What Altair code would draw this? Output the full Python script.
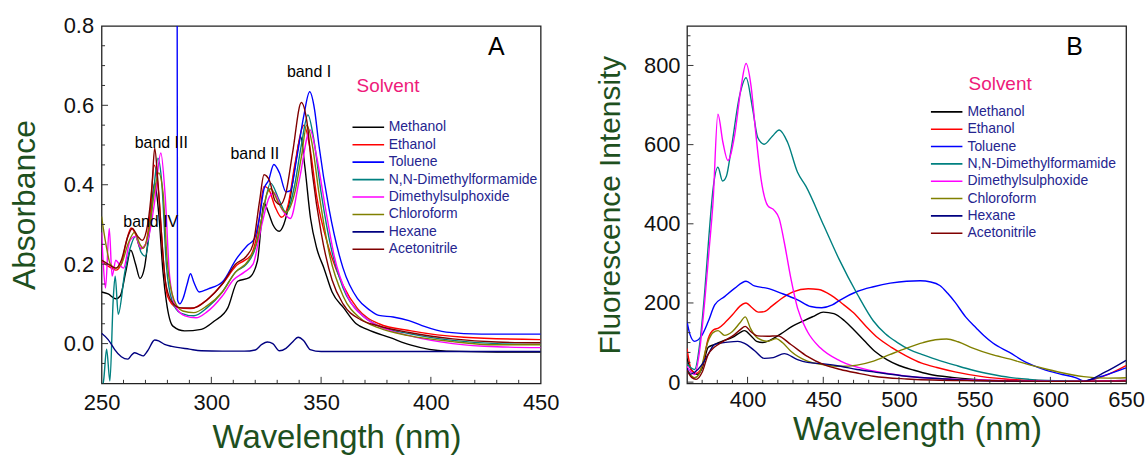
import altair as alt
import pandas as pd
import numpy as np

# ---------------- data ----------------
SOLVENTS = ["Methanol", "Ethanol", "Toluene", "N,N-Dimethylformamide",
            "Dimethylsulphoxide", "Chloroform", "Hexane", "Acetonitrile"]
LEGEND_A = ["Methanol", "Ethanol", "Toluene", "N,N-Dimethylformamide",
            "Dimethylsulphoxide", "Chloroform", " Hexane", "Acetonitrile"]
COLORS = ["#000000", "#ff0000", "#0000ff", "#008080",
          "#ff00ff", "#808000", "#000080", "#800000"]

# Panel A: absorbance
A_meth_x = [250, 253, 256.5, 258.5, 261, 263.3, 265.5, 267.5, 269.5, 272, 274.2, 276, 278, 279.5, 282.5, 287.8, 295.4, 301.4, 307.5, 312, 317.3, 321, 324, 326, 328, 330.9, 333, 336, 338.5, 340.7, 342.5, 345.2, 348, 351.3, 355, 360.3, 366, 371, 381.5, 391, 407, 430, 450]
A_meth_y = [0.13, 0.125, 0.113, 0.12, 0.18, 0.235, 0.2, 0.164, 0.19, 0.3, 0.404, 0.33, 0.18, 0.107, 0.044, 0.032, 0.036, 0.057, 0.09, 0.157, 0.166, 0.208, 0.354, 0.33, 0.3, 0.283, 0.3, 0.37, 0.46, 0.521, 0.45, 0.315, 0.24, 0.19, 0.13, 0.09, 0.05, 0.036, 0.015, -0.004, -0.019, -0.021, -0.021]
A_eth_x = [250, 253, 256.5, 259, 261, 263.5, 265.5, 267.8, 270, 272, 274, 276, 278, 280, 284, 290.5, 298, 305, 311.5, 318, 321, 324, 326, 329, 332, 335, 338, 342.2, 345, 348, 353.6, 360, 366.6, 376.3, 391, 415, 450]
A_eth_y = [0.206, 0.195, 0.185, 0.2, 0.25, 0.291, 0.275, 0.239, 0.25, 0.32, 0.449, 0.38, 0.22, 0.12, 0.092, 0.088, 0.11, 0.15, 0.197, 0.222, 0.28, 0.396, 0.39, 0.345, 0.318, 0.35, 0.45, 0.55, 0.49, 0.37, 0.239, 0.147, 0.088, 0.05, 0.032, 0.016, 0.01]
A_tol_x = [284.4, 284.6, 285.6, 287.2, 289, 290.5, 292, 294.5, 298.6, 305, 311.5, 316.4, 319.6, 322, 324, 326, 328.5, 331, 334, 336, 339, 342, 344.8, 347, 349, 353.6, 360, 366.6, 372, 376.3, 382.8, 390, 395.7, 407, 423, 450]
A_tol_y = [1.0, 0.11, 0.10, 0.115, 0.15, 0.176, 0.155, 0.13, 0.138, 0.155, 0.214, 0.247, 0.264, 0.32, 0.39, 0.41, 0.451, 0.43, 0.382, 0.385, 0.47, 0.57, 0.634, 0.59, 0.5, 0.34, 0.19, 0.113, 0.085, 0.071, 0.067, 0.058, 0.046, 0.029, 0.024, 0.024]
A_dmf_x = [250, 251, 252.3, 253.8, 255.3, 256.2, 257.6, 260.6, 263, 265.5, 268, 270, 272, 274, 275.7, 277.5, 279.5, 282, 286, 292, 298, 305, 311, 316, 320, 323.5, 327, 331, 334, 338, 341, 344, 346.5, 350, 355, 360, 368, 376, 390, 410, 430, 450]
A_dmf_y = [-0.12, -0.09, -0.014, -0.094, 0.11, 0.17, 0.074, 0.18, 0.24, 0.27, 0.23, 0.22, 0.29, 0.4, 0.467, 0.4, 0.2, 0.11, 0.077, 0.07, 0.09, 0.13, 0.18, 0.2, 0.24, 0.33, 0.404, 0.36, 0.33, 0.4, 0.5, 0.576, 0.52, 0.38, 0.23, 0.14, 0.075, 0.045, 0.025, 0.008, 0.0, -0.002]
A_dmso_x = [250, 250.8, 251.8, 253.5, 254.8, 256.5, 258, 260, 263, 265.5, 268, 271, 274, 277, 279, 281, 284, 288, 293, 298, 305, 310, 315, 319, 323, 326.5, 328.5, 332, 336, 340, 345, 348, 352, 356, 362, 370, 378, 390, 410, 430, 450]
A_dmso_y = [0.28, 0.2, 0.14, 0.29, 0.17, 0.21, 0.2, 0.19, 0.26, 0.27, 0.24, 0.26, 0.35, 0.48, 0.37, 0.17, 0.09, 0.07, 0.065, 0.08, 0.12, 0.16, 0.18, 0.2, 0.3, 0.37, 0.38, 0.34, 0.315, 0.41, 0.538, 0.47, 0.34, 0.22, 0.12, 0.065, 0.04, 0.02, 0.0, -0.008, -0.01]
A_chl_x = [250, 252, 254, 256.5, 259, 262, 265, 267.5, 269, 272, 274, 276, 278, 280, 283, 287, 292, 298, 305, 311, 317, 321, 325.5, 327, 331, 334, 338, 341, 343.5, 346, 349, 354, 360, 368, 376, 390, 410, 430, 450]
A_chl_y = [0.32, 0.25, 0.2, 0.19, 0.2, 0.25, 0.28, 0.25, 0.24, 0.3, 0.38, 0.43, 0.38, 0.2, 0.11, 0.082, 0.078, 0.095, 0.13, 0.18, 0.21, 0.26, 0.38, 0.39, 0.35, 0.33, 0.38, 0.47, 0.55, 0.5, 0.38, 0.22, 0.12, 0.063, 0.04, 0.02, 0.005, -0.003, -0.003]
A_hex_x = [250, 253, 254.5, 256, 259, 262, 263.5, 265, 267, 268.9, 271, 274.2, 276, 278.7, 282, 290, 295.4, 305, 315, 320, 323, 325.5, 328, 331, 334, 337, 339.5, 342, 345, 350, 400, 450]
A_hex_y = [0.026, 0.01, -0.002, -0.015, -0.033, -0.039, -0.03, -0.023, -0.027, -0.031, -0.018, 0.009, 0.007, -0.002, -0.007, -0.014, -0.018, -0.019, -0.019, -0.016, -0.002, 0.004, 0.0, -0.018, -0.012, 0.004, 0.016, 0.008, -0.015, -0.02, -0.02, -0.02]
A_acn_x = [250, 253, 256.5, 259, 262, 264, 266.5, 268.5, 271, 273, 274.2, 275.5, 277, 279, 282, 286, 292, 298, 305, 311, 316, 319, 322, 324, 326.5, 329, 331.5, 334, 337, 341, 343.5, 346, 350, 355, 360, 368, 376, 390, 410, 430, 450]
A_acn_y = [0.21, 0.2, 0.19, 0.21, 0.27, 0.29, 0.27, 0.26, 0.3, 0.4, 0.492, 0.42, 0.3, 0.16, 0.105, 0.09, 0.09, 0.11, 0.15, 0.2, 0.22, 0.25, 0.36, 0.425, 0.41, 0.36, 0.35, 0.38, 0.48, 0.607, 0.56, 0.43, 0.28, 0.16, 0.1, 0.06, 0.045, 0.028, 0.012, 0.004, 0.002]

# Panel B: fluorescence
B_meth_x = [360, 363, 367, 370, 374, 378, 383, 390, 395, 398, 402, 406, 410, 415, 422, 430, 437, 444, 450, 457, 464, 470, 477, 484, 492, 500, 510, 520, 535, 550, 575, 600, 625, 650]
B_meth_y = [60, 30, 20, 35, 88, 95, 103, 113, 125, 130, 118, 103, 100, 106, 122, 142, 155, 167, 177, 173, 155, 133, 105, 78, 57, 42, 30, 20, 12, 7, 3, 2, 2, 4]
B_eth_x = [360, 363, 366, 370, 374, 377.5, 381, 385, 390, 395, 399, 403, 407, 411, 416, 422, 430, 440, 447, 455, 462, 470, 478, 486, 495, 505, 515, 525, 537, 555, 570, 590, 610, 622, 635, 650]
B_eth_y = [85, 30, 22, 40, 110, 132, 137, 150, 170, 192, 200, 188, 177, 178, 192, 210, 228, 236, 234, 220, 200, 175, 142, 112, 88, 66, 48, 37, 26, 14, 8, 4, 2, 2, 15, 42]
B_tol_x = [360, 362, 365, 369.5, 374, 378.3, 384.8, 391.4, 399, 404.5, 413.3, 422, 433, 441.7, 449, 456, 461.4, 472.3, 483.2, 494.2, 505, 514, 521, 527, 532, 537, 544, 551, 556, 562, 573, 584, 595, 606, 617, 622, 628, 635, 650]
B_tol_y = [153, 120, 103, 116, 153, 195, 216, 237, 255, 243, 237, 225, 208, 191, 188, 195, 208, 229, 241, 250, 255, 256, 253, 244, 225, 202, 165, 137, 118, 99, 75, 50, 33, 21, 11, 3, 8, 16, 36]
B_dmf_x = [360, 365, 368.5, 371.7, 374.5, 377.2, 380.4, 383.5, 386, 389.2, 394.7, 399, 403.4, 406.7, 411, 416.5, 420.9, 426.4, 433, 438.5, 450.4, 460.5, 472.5, 483, 491, 499, 507, 515, 525, 537, 549, 561, 573, 586, 598, 620, 650]
B_dmf_y = [45, 32, 100, 229, 370, 488, 543, 508, 520, 589, 723, 769, 689, 618, 601, 622, 637, 606, 530, 495, 395, 310, 222, 155, 122, 100, 82, 70, 57, 43, 30, 20, 12, 7, 4, 2, 2]
B_dmso_x = [360, 365, 368, 371.7, 374.5, 377.2, 380.4, 383.7, 387, 391.4, 395.8, 399, 402.3, 405.6, 408.9, 413.3, 417.6, 420.9, 424.2, 428.6, 433, 439.5, 448.2, 461.4, 483.2, 505, 540, 573.5, 610, 650]
B_dmso_y = [40, 19, 70, 204, 330, 455, 677, 606, 560, 622, 748, 805, 748, 622, 513, 446, 434, 413, 354, 262, 187, 128, 86, 53, 28, 15, 7, 4, 2, 4]
B_chl_x = [360, 365, 368, 373.9, 377.2, 380.5, 384.8, 390, 395, 398.5, 402, 406.7, 413.3, 419, 423, 428.6, 439.5, 450.4, 461.4, 472.3, 483.2, 494.2, 505, 516, 524, 531.5, 539, 548.8, 561, 573.5, 584, 595, 606, 622, 638, 650]
B_chl_y = [30, 11, 20, 103, 125, 130, 118, 128, 150, 165, 135, 111, 103, 110, 100, 78, 53, 44, 40, 43, 53, 70, 86, 100, 107, 109, 102, 86, 70, 58, 46, 35, 25, 14, 10, 11]
B_hex_x = [360, 362, 365, 370, 373.9, 378.2, 387, 393.6, 398, 404.5, 411, 417, 424.2, 433, 439.5, 450.4, 461.4, 472.3, 483.2, 505, 530, 548.8, 575, 598, 622, 636, 650]
B_hex_y = [35, 20, 25, 45, 70, 95, 101, 103, 98, 80, 60, 62, 72, 57, 50, 46, 40, 32, 26, 15, 8, 4, 2, 2, 2, 25, 55]
B_acn_x = [360, 363, 366, 370, 374, 378, 382.6, 391.4, 395, 398.5, 402, 406.7, 413.3, 419.8, 428.6, 439.5, 450.4, 461.4, 472.3, 483.2, 505, 540, 600, 650]
B_acn_y = [30, 12, 7, 25, 70, 88, 100, 120, 132, 141, 128, 117, 116, 117, 95, 65, 44, 32, 23, 15, 8, 4, 2, 3]

A_SERIES = [(A_meth_x, A_meth_y), (A_eth_x, A_eth_y), (A_tol_x, A_tol_y), (A_dmf_x, A_dmf_y),
            (A_dmso_x, A_dmso_y), (A_chl_x, A_chl_y), (A_hex_x, A_hex_y), (A_acn_x, A_acn_y)]
B_SERIES = [(B_meth_x, B_meth_y), (B_eth_x, B_eth_y), (B_tol_x, B_tol_y), (B_dmf_x, B_dmf_y),
            (B_dmso_x, B_dmso_y), (B_chl_x, B_chl_y), (B_hex_x, B_hex_y), (B_acn_x, B_acn_y)]

A_BANDS = ["band I", "band II", "band III", "band IV"]
A_BAND_X = [344.5, 319.8, 277.2, 272.4]
A_BAND_Y = [0.684, 0.478, 0.5045, 0.306]

# ---------------- styling ----------------
FONT = "Liberation Sans"
GREEN = "#1e501e"
NAVY = "#25258f"
PINK = "#ee1a7a"
W, H = 441, 359


def long_df(series):
    rows = []
    for i, (xs, ys) in enumerate(series):
        for k, (x, y) in enumerate(zip(xs, ys)):
            rows.append({"solvent": SOLVENTS[i], "wl": x, "val": y, "order": k})
    return pd.DataFrame(rows)


def panel(series, xdom, ydom, xvals, yvals, yfmt, ytitle, ytitle_size, ytitle_pad,
          xtitle_x, legend_labels, leg_x1, leg_x2, leg_tx, leg_y0, leg_dy,
          solv_x, solv_y, letter, letter_x, letter_y, xminor, yminor, xlab_pad,
          xtitle_pad, ylab_pad, bands=None):
    xs = alt.Scale(domain=xdom, nice=False, zero=False)
    ys = alt.Scale(domain=ydom, nice=False, zero=False)
    color = alt.Color("solvent:N", scale=alt.Scale(domain=SOLVENTS, range=COLORS), legend=None)

    xaxis = alt.Axis(values=xvals, title="Wavelength (nm)", labelFontSize=22, titleFontSize=33,
                     titleColor=GREEN, titleFontWeight="normal", ticks=False, domain=False,
                     grid=False, labelPadding=xlab_pad, titlePadding=xtitle_pad, titleX=xtitle_x,
                     labelFlush=False, labelColor="#111")
    yaxis = alt.Axis(values=yvals, format=yfmt, title=ytitle, labelFontSize=22,
                     titleFontSize=ytitle_size, titleColor=GREEN, titleFontWeight="normal",
                     ticks=False, domain=False, grid=False, labelPadding=ylab_pad,
                     titlePadding=ytitle_pad, labelFlush=False, labelColor="#111")

    def X(f):
        return alt.X(f, type="quantitative", scale=xs, axis=xaxis)

    def Y(f):
        return alt.Y(f, type="quantitative", scale=ys, axis=yaxis)

    df = long_df(series)
    lines = alt.Chart(df).mark_line(strokeWidth=1.4, interpolate="monotone", clip=True).encode(
        x=X("wl"), y=Y("val"), color=color, order="order:Q")

    # inward tick marks
    span_y = ydom[1] - ydom[0]
    span_x = xdom[1] - xdom[0]
    xt = []
    for v in np.arange(xdom[0], xdom[1] + 1e-9, xminor):
        v = round(float(v), 4)
        if v <= xdom[0] or v >= xdom[1]:
            continue
        major = any(abs(v - m) < 1e-6 for m in xvals)
        xt.append({"x": v, "y": ydom[0], "y2": ydom[0] + span_y * (6.5 if major else 3.5) / H})
    yt = []
    start = np.ceil(ydom[0] / yminor) * yminor
    for v in np.arange(start, ydom[1] + 1e-9, yminor):
        v = round(float(v), 4)
        if v <= ydom[0] + 1e-9 or v >= ydom[1] - 1e-9:
            continue
        major = any(abs(v - m) < 1e-6 for m in yvals)
        yt.append({"y": v, "x": xdom[0], "x2": xdom[0] + span_x * (6.5 if major else 3.5) / W})
    xticks = alt.Chart(pd.DataFrame(xt)).mark_rule(color="#333", strokeWidth=1).encode(
        x=X("x"), y=Y("y"), y2="y2")
    yticks = alt.Chart(pd.DataFrame(yt)).mark_rule(color="#333", strokeWidth=1).encode(
        y=Y("y"), x=X("x"), x2="x2")

    # legend
    leg = pd.DataFrame({
        "solvent": SOLVENTS,
        "label": legend_labels,
        "x1": [leg_x1] * 8,
        "x2": [leg_x2] * 8,
        "tx": [leg_tx] * 8,
        "y": [leg_y0 - i * leg_dy for i in range(8)],
    })
    leg_lines = alt.Chart(leg).mark_rule(strokeWidth=1.6).encode(
        x=X("x1"), x2="x2", y=Y("y"), color=color)
    leg_text = alt.Chart(leg).mark_text(align="left", baseline="middle", fontSize=14,
                                        color=NAVY, font=FONT).encode(
        x=X("tx"), y=Y("y"), text="label:N")
    solv = alt.Chart(pd.DataFrame({"x": [solv_x], "y": [solv_y], "t": ["Solvent"]})).mark_text(
        align="center", baseline="middle", fontSize=19, color=PINK, font=FONT).encode(
        x=X("x"), y=Y("y"), text="t:N")
    let = alt.Chart(pd.DataFrame({"x": [letter_x], "y": [letter_y], "t": [letter]})).mark_text(
        align="center", baseline="middle", fontSize=25, color="#000", font=FONT).encode(
        x=X("x"), y=Y("y"), text="t:N")
    layers = [lines, xticks, yticks, leg_lines, leg_text, solv, let]
    if bands is not None:
        bdf = pd.DataFrame({"t": bands[0], "x": bands[1], "y": bands[2]})
        layers.append(alt.Chart(bdf).mark_text(align="center", baseline="middle", fontSize=16,
                                               color="#000", font=FONT).encode(
            x=X("x"), y=Y("y"), text="t:N"))
    return alt.layer(*layers).properties(width=W, height=H)


chartA = panel(A_SERIES, [250, 450], [-0.1, 0.8], [250, 300, 350, 400, 450],
               [0.0, 0.2, 0.4, 0.6, 0.8], ".1f", "Absorbance", 32, 22,
               236, LEGEND_A, 364.3, 378.7, 380.8, 0.5447, 0.0439,
               380.5, 0.649, "A", 429.8, 0.747, 10, 0.05, 9, 8, 8,
               bands=(A_BANDS, A_BAND_X, A_BAND_Y))

chartB = panel(B_SERIES, [360, 650], [-3, 900], [400, 450, 500, 550, 600, 650],
               [0, 200, 400, 600, 800], "d", "Fluorescence Intensity", 30, 18,
               231, SOLVENTS, 521.1, 541.9, 545.2, 682.8, 43.8,
               566.8, 752, "B", 616, 847, 10, 25, 6, 3, 7)

chart = alt.hconcat(chartA, chartB, spacing=34).properties(
    padding={"left": 7, "top": 13, "right": 2, "bottom": 0},
    background="white",
).configure(font=FONT).configure_view(stroke="#222", strokeWidth=1.3)

chart.save("out.html", embed_options={"renderer": "svg", "actions": False})
